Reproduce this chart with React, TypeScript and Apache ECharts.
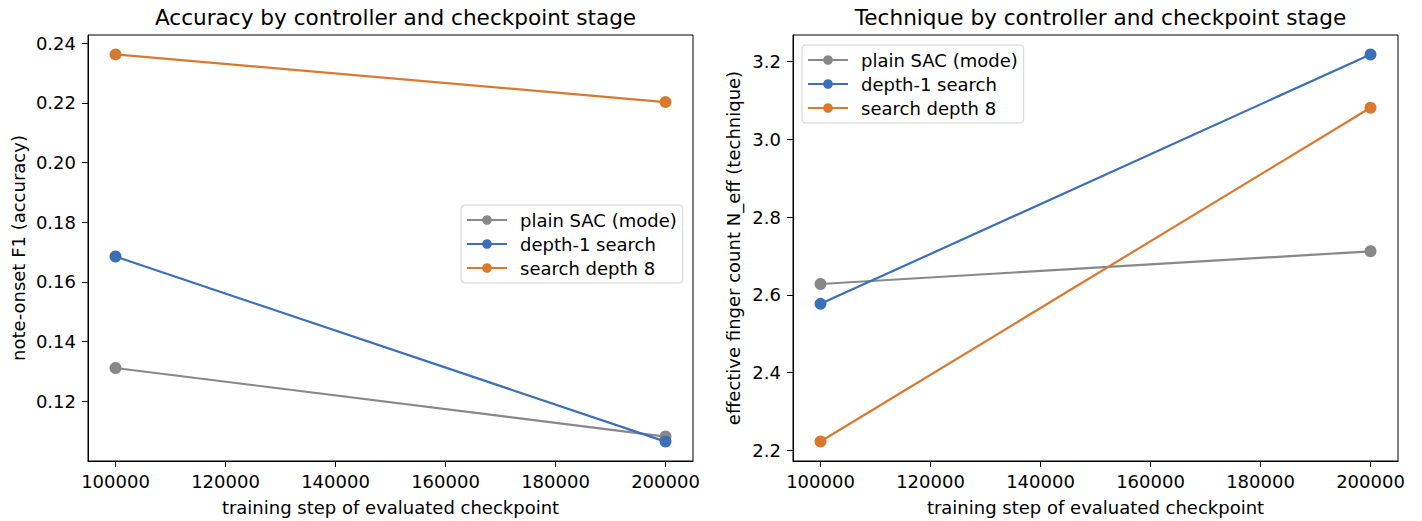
import React, { useEffect, useRef } from "react";
import * as echarts from "echarts";

const steps = [100000, 200000];
const seriesNames = ["plain SAC (mode)", "depth-1 search", "search depth 8"];
const colors = ["#888888", "#3b6fb8", "#d8792f"];

const accPlain = [0.1311, 0.1081];
const accDepth1 = [0.1685, 0.1064];
const accDepth8 = [0.2363, 0.2203];

const techPlain = [2.628, 2.712];
const techDepth1 = [2.577, 3.218];
const techDepth8 = [2.223, 3.081];

const xTicks = [100000, 120000, 140000, 160000, 180000, 200000];
const accTicks = [0.12, 0.14, 0.16, 0.18, 0.2, 0.22, 0.24];
const techTicks = [2.2, 2.4, 2.6, 2.8, 3.0, 3.2];

const titles = [
  "Accuracy by controller and checkpoint stage",
  "Technique by controller and checkpoint stage",
];
const xName = "training step of evaluated checkpoint";
const yNames = ["note-onset F1 (accuracy)", "effective finger count N_eff (technique)"];

const FONT = "DejaVu Sans";
const FS = 18;

export default function App() {
  const ref = useRef<HTMLDivElement>(null);
  useEffect(() => {
    if (!ref.current) return;
    const chart = echarts.init(ref.current, null, { renderer: "svg" });
    const grids = [
      { left: 88, top: 35, width: 605, height: 427 },
      { left: 793, top: 35, width: 605, height: 427 },
    ];
    const xAxisCommon = (gi: number) => ({
      type: "value",
      gridIndex: gi,
      min: 95000,
      max: 205000,
      name: xName,
      nameLocation: "middle",
      nameGap: 37,
      nameTextStyle: { fontFamily: FONT, fontSize: FS, color: "#000" },
      axisLine: { show: true, onZero: false, lineStyle: { color: "#000", width: 1 } },
      axisTick: { show: true, length: 6, lineStyle: { color: "#000" }, customValues: xTicks },
      axisLabel: {
        fontFamily: FONT,
        fontSize: FS,
        color: "#000",
        margin: 11,
        customValues: xTicks,
        formatter: (v: number) => String(v),
      },
      splitLine: { show: false },
    });
    const yAxis = (gi: number, min: number, max: number, ticks: number[], dec: number, gap: number) => ({
      type: "value",
      gridIndex: gi,
      min,
      max,
      name: yNames[gi],
      nameLocation: "middle",
      nameGap: gap,
      nameTextStyle: { fontFamily: FONT, fontSize: FS, color: "#000" },
      axisLine: { show: true, onZero: false, lineStyle: { color: "#000", width: 1 } },
      axisTick: { show: true, length: 6, lineStyle: { color: "#000" }, customValues: ticks },
      axisLabel: {
        fontFamily: FONT,
        fontSize: FS,
        color: "#000",
        margin: 12,
        customValues: ticks,
        formatter: (v: number) => v.toFixed(dec),
      },
      splitLine: { show: false },
    });
    const mk = (name: string, i: number, data: number[], gi: number) => ({
      type: "line",
      name,
      xAxisIndex: gi,
      yAxisIndex: gi,
      data: steps.map((s, k) => [s, data[k]]),
      symbol: "circle",
      symbolSize: 12,
      showSymbol: true,
      lineStyle: { color: colors[i], width: 2.2 },
      itemStyle: { color: colors[i] },
      z: 3 + i,
    });
    const legendCommon = {
      orient: "vertical",
      itemWidth: 40,
      itemHeight: 12,
      itemGap: 6,
      padding: [6, 6, 6, 5],
      borderColor: "#d0d0d0",
      borderWidth: 1,
      borderRadius: 4,
      backgroundColor: "rgba(255,255,255,0.8)",
      textStyle: { fontFamily: FONT, fontSize: FS, color: "#000", padding: [0, 0, 0, 8] },
      data: seriesNames,
      selectedMode: false,
    };
    const titleStyle = { fontFamily: FONT, fontSize: 21.6, fontWeight: "normal", color: "#000" };
    chart.setOption({
      animation: false,
      title: [
        { text: titles[0], left: 88 + 302.5, textAlign: "center", top: 1, textStyle: titleStyle },
        { text: titles[1], left: 793 + 302.5, textAlign: "center", top: 1, textStyle: titleStyle },
      ],
      grid: grids.map((g) => ({ ...g, show: true, borderColor: "#000", borderWidth: 1, backgroundColor: "transparent" })),
      xAxis: [xAxisCommon(0), xAxisCommon(1)],
      yAxis: [
        yAxis(0, 0.0999, 0.2428, accTicks, 2, 61),
        yAxis(1, 2.173, 3.268, techTicks, 1, 51),
      ],
      legend: [
        { ...legendCommon, left: 461, top: 205 },
        { ...legendCommon, left: 802, top: 45 },
      ],
      series: [
        mk(seriesNames[0], 0, accPlain, 0),
        mk(seriesNames[1], 1, accDepth1, 0),
        mk(seriesNames[2], 2, accDepth8, 0),
        mk(seriesNames[0], 0, techPlain, 1),
        mk(seriesNames[1], 1, techDepth1, 1),
        mk(seriesNames[2], 2, techDepth8, 1),
      ],
    });
    return () => chart.dispose();
  }, []);
  return (
    <div
      ref={ref}
      style={{ position: "fixed", left: 0, top: 0, width: 1422, height: 521, background: "#fff" }}
    />
  );
}
